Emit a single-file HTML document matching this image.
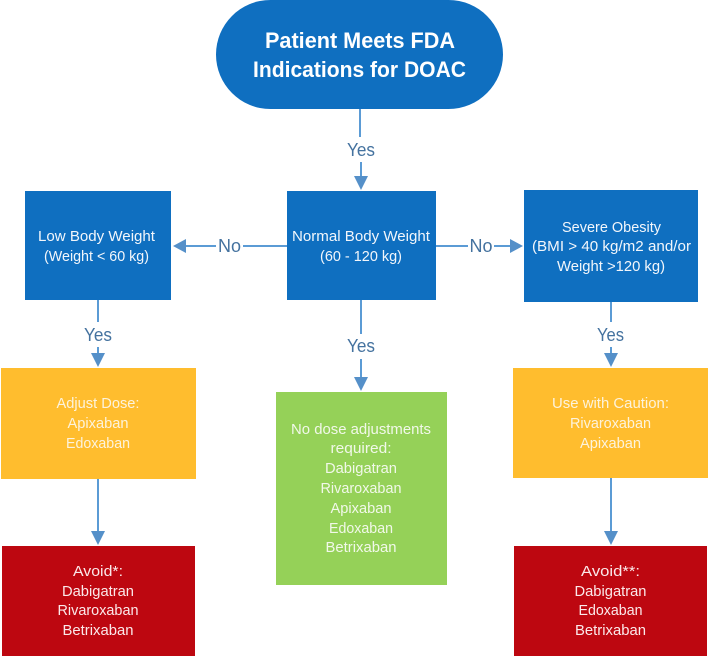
<!DOCTYPE html>
<html>
<head>
<meta charset="utf-8">
<style>
html,body{margin:0;padding:0;background:#fff;width:709px;height:656px;overflow:hidden}
svg{display:block}
text{font-family:"Liberation Sans",sans-serif;text-anchor:middle}
.t{font-size:15px;fill:#f2f6fb}
.y{font-size:15px;fill:#fdf3dc}
.g{font-size:15px;fill:#f1f8e9}
.r{font-size:15px;fill:#fbe9ea}
.h{font-size:22px;font-weight:bold;fill:#fff}
.l{font-size:18px;fill:#44729f}
.c{stroke:#5b9bd5;stroke-width:2;fill:none}
.a{fill:#5590c9}
</style>
</head>
<body>
<svg width="709" height="656" viewBox="0 0 709 656" xmlns="http://www.w3.org/2000/svg" lengthAdjust="spacingAndGlyphs">
<!-- connectors -->
<path class="c" d="M360 109V137M361 162V178"/>
<polygon class="a" points="354,176 368,176 361,190"/>
<path class="c" d="M287 246H243M216 246H183"/>
<polygon class="a" points="186,239 186,253 173,246"/>
<path class="c" d="M436 246H468M494 246H512"/>
<polygon class="a" points="510,239 510,253 523,246"/>
<path class="c" d="M361 300V334M361 359V378"/>
<polygon class="a" points="354,377 368,377 361,391"/>
<path class="c" d="M98 300V322M98 347V355"/>
<polygon class="a" points="91,353 105,353 98,367"/>
<path class="c" d="M611 302V322M611 347V355"/>
<polygon class="a" points="604,353 618,353 611,367"/>
<path class="c" d="M98 479V533"/>
<polygon class="a" points="91,531 105,531 98,545"/>
<path class="c" d="M611 478V533"/>
<polygon class="a" points="604,531 618,531 611,545"/>

<!-- nodes -->
<rect x="216" y="0" width="287" height="109" rx="54.5" fill="#0f6fc0"/>
<rect x="25" y="191" width="146" height="109" fill="#0f6fc0"/>
<rect x="287" y="191" width="149" height="109" fill="#0f6fc0"/>
<rect x="524" y="190" width="174" height="112" fill="#0f6fc0"/>
<rect x="1" y="368" width="195" height="111" fill="#ffbd2e"/>
<rect x="513" y="368" width="195" height="110" fill="#ffbd2e"/>
<rect x="276" y="392" width="171" height="193" fill="#95d158"/>
<rect x="2" y="546" width="193" height="110" fill="#bd0710"/>
<rect x="514" y="546" width="193" height="110" fill="#bd0710"/>

<!-- title -->
<text class="h" x="360" y="48" textLength="190" lengthAdjust="spacingAndGlyphs">Patient Meets FDA</text>
<text class="h" x="359.5" y="77" textLength="213" lengthAdjust="spacingAndGlyphs">Indications for DOAC</text>

<!-- connector labels -->
<text class="l" x="361" y="156" textLength="28" lengthAdjust="spacingAndGlyphs">Yes</text>
<text class="l" x="229.500" y="252" textLength="23" lengthAdjust="spacingAndGlyphs">No</text>
<text class="l" x="481" y="252" textLength="23" lengthAdjust="spacingAndGlyphs">No</text>
<text class="l" x="361" y="352" textLength="28" lengthAdjust="spacingAndGlyphs">Yes</text>
<text class="l" x="98" y="341" textLength="28" lengthAdjust="spacingAndGlyphs">Yes</text>
<text class="l" x="610.500" y="341" textLength="27" lengthAdjust="spacingAndGlyphs">Yes</text>

<!-- low body weight -->
<text class="t" x="96.500" y="241" textLength="117" lengthAdjust="spacingAndGlyphs">Low Body Weight</text>
<text class="t" x="96.500" y="261" textLength="105" lengthAdjust="spacingAndGlyphs">(Weight &lt; 60 kg)</text>

<!-- normal body weight -->
<text class="t" x="361" y="241" textLength="138" lengthAdjust="spacingAndGlyphs">Normal Body Weight</text>
<text class="t" x="361" y="261" textLength="82" lengthAdjust="spacingAndGlyphs">(60 - 120 kg)</text>

<!-- severe obesity -->
<text class="t" x="611.500" y="232" textLength="99" lengthAdjust="spacingAndGlyphs">Severe Obesity</text>
<text class="t" x="611.500" y="251" textLength="159" lengthAdjust="spacingAndGlyphs">(BMI &gt; 40 kg/m2 and/or</text>
<text class="t" x="611" y="271" textLength="108" lengthAdjust="spacingAndGlyphs">Weight &gt;120 kg)</text>

<!-- adjust dose -->
<text class="y" x="98" y="408" textLength="83" lengthAdjust="spacingAndGlyphs">Adjust Dose:</text>
<text class="y" x="98" y="428" textLength="61" lengthAdjust="spacingAndGlyphs">Apixaban</text>
<text class="y" x="98" y="448" textLength="64" lengthAdjust="spacingAndGlyphs">Edoxaban</text>

<!-- use with caution -->
<text class="y" x="610.500" y="408" textLength="117" lengthAdjust="spacingAndGlyphs">Use with Caution:</text>
<text class="y" x="610.500" y="428" textLength="81" lengthAdjust="spacingAndGlyphs">Rivaroxaban</text>
<text class="y" x="610.500" y="448" textLength="61" lengthAdjust="spacingAndGlyphs">Apixaban</text>

<!-- no dose adjustments -->
<text class="g" x="361" y="434" textLength="140" lengthAdjust="spacingAndGlyphs">No dose adjustments</text>
<text class="g" x="361" y="453" textLength="61" lengthAdjust="spacingAndGlyphs">required:</text>
<text class="g" x="361" y="473" textLength="72" lengthAdjust="spacingAndGlyphs">Dabigatran</text>
<text class="g" x="361" y="493" textLength="81" lengthAdjust="spacingAndGlyphs">Rivaroxaban</text>
<text class="g" x="361" y="513" textLength="61" lengthAdjust="spacingAndGlyphs">Apixaban</text>
<text class="g" x="361" y="533" textLength="64" lengthAdjust="spacingAndGlyphs">Edoxaban</text>
<text class="g" x="361" y="552" textLength="71" lengthAdjust="spacingAndGlyphs">Betrixaban</text>

<!-- avoid left -->
<text class="r" x="98" y="576" textLength="50" lengthAdjust="spacingAndGlyphs">Avoid*:</text>
<text class="r" x="98" y="596" textLength="72" lengthAdjust="spacingAndGlyphs">Dabigatran</text>
<text class="r" x="98" y="615" textLength="81" lengthAdjust="spacingAndGlyphs">Rivaroxaban</text>
<text class="r" x="98" y="635" textLength="71" lengthAdjust="spacingAndGlyphs">Betrixaban</text>

<!-- avoid right -->
<text class="r" x="610.500" y="576" textLength="59" lengthAdjust="spacingAndGlyphs">Avoid**:</text>
<text class="r" x="610.500" y="596" textLength="72" lengthAdjust="spacingAndGlyphs">Dabigatran</text>
<text class="r" x="610.500" y="615" textLength="64" lengthAdjust="spacingAndGlyphs">Edoxaban</text>
<text class="r" x="610.500" y="635" textLength="71" lengthAdjust="spacingAndGlyphs">Betrixaban</text>
</svg>
</body>
</html>
